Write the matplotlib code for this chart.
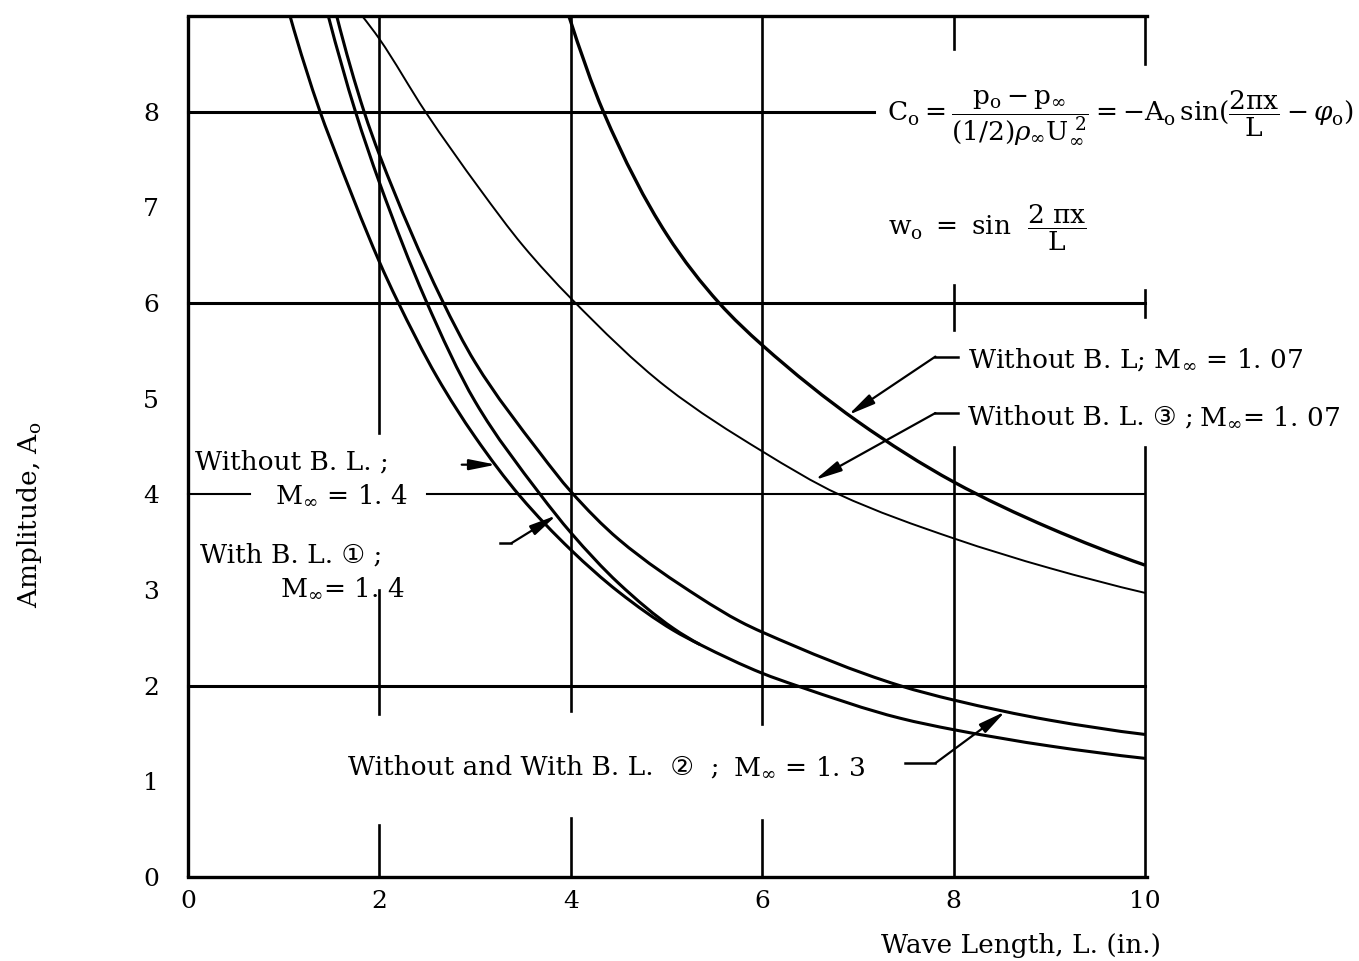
import numpy as np
import matplotlib.pyplot as plt
from matplotlib.path import Path
from matplotlib.patches import PathPatch

plt.rcParams['font.family'] = ['DejaVu Serif', 'DejaVu Sans']
plt.rcParams['mathtext.fontset'] = 'dejavuserif'

# Wave length L (in.) and amplitude A_o along each curve
L_m107 = [3.98, 4.34, 5.0, 5.55, 6.0, 7.0, 8.0, 9.0, 10.0]
A_m107 = [9.0, 8.0, 6.72, 6.0, 5.56, 4.76, 4.13, 3.65, 3.26]

L_m107_3 = [1.82, 2.0, 2.48, 3.05, 3.5, 4.0, 5.0, 6.0, 6.8, 8.0, 9.0, 10.0]
A_m107_3 = [9.0, 8.76, 8.0, 7.19, 6.6, 6.05, 5.12, 4.45, 4.0, 3.54, 3.23, 2.97]

L_m14 = [1.066, 1.38, 1.48, 2.0, 2.18, 2.6, 3.0, 3.47, 4.0, 4.5, 5.07, 5.35,
         6.0, 6.36, 7.44, 8.0, 9.0, 10.0]
A_m14 = [9.0, 8.0, 7.73, 6.43, 6.04, 5.23, 4.6, 3.98, 3.42, 2.98, 2.58, 2.43,
         2.13, 2.0, 1.66, 1.54, 1.37, 1.24]

L_m14_1 = [1.466, 1.75, 2.0, 2.48, 3.0, 3.68, 4.0, 4.5, 5.07, 5.35]
A_m14_1 = [9.0, 8.0, 7.26, 6.04, 4.97, 4.0, 3.60, 3.07, 2.60, 2.43]

L_m13 = [1.554, 1.84, 2.0, 2.65, 3.0, 3.68, 4.0, 4.5, 5.35, 5.77, 6.0, 7.44,
         8.0, 9.0, 10.0]
A_m13 = [9.0, 8.0, 7.55, 6.04, 5.38, 4.43, 4.03, 3.53, 2.92, 2.67, 2.56, 2.0,
         1.85, 1.64, 1.49]

x_ticks = [0, 2, 4, 6, 8, 10]
y_ticks = [0, 1, 2, 3, 4, 5, 6, 7, 8]


def hermite_path(x, y):
    """Monotone cubic through the points, built as Bezier segments."""
    x = np.asarray(x, float)
    y = np.asarray(y, float)
    h = np.diff(x)
    d = np.diff(y) / h
    m = np.zeros_like(x)
    for i in range(1, len(x) - 1):
        if d[i - 1] * d[i] > 0:
            w1 = 2 * h[i] + h[i - 1]
            w2 = h[i] + 2 * h[i - 1]
            m[i] = (w1 + w2) / (w1 / d[i - 1] + w2 / d[i])
    m[0] = ((2 * h[0] + h[1]) * d[0] - h[0] * d[1]) / (h[0] + h[1])
    m[-1] = ((2 * h[-1] + h[-2]) * d[-1] - h[-1] * d[-2]) / (h[-1] + h[-2])
    verts = [(x[0], y[0])]
    codes = [Path.MOVETO]
    for i in range(len(x) - 1):
        verts += [(x[i] + h[i] / 3, y[i] + m[i] * h[i] / 3),
                  (x[i + 1] - h[i] / 3, y[i + 1] - m[i + 1] * h[i] / 3),
                  (x[i + 1], y[i + 1])]
        codes += [Path.CURVE4] * 3
    return Path(verts, codes)


fig = plt.figure(figsize=(13.59, 9.61), dpi=100)
ax = fig.add_axes([188 / 1359, 84 / 961, 957 / 1359, 861 / 961])
ax.set_xlim(0, 10)
ax.set_ylim(0, 9)
for s in ax.spines.values():
    s.set_visible(False)

# frame: left, bottom and top edges
ax.plot([0, 0], [0, 9], color='k', lw=2.4, clip_on=False, solid_capstyle='butt')
ax.plot([0, 10.02], [0, 0], color='k', lw=2.4, clip_on=False)
ax.plot([0, 10.02], [9, 9], color='k', lw=2.4, clip_on=False)

# grid lines, broken where the labels sit
hsegs = [(8, 0, 7.17, 2.2), (6, 0, 10, 2.2), (4, 0, 0.65, 1.5),
         (4, 2.5, 10, 1.5), (2, 0, 10, 2.2)]
vsegs = [(2, 4.64, 9), (2, 1.7, 3.0), (2, 0, 0.54),
         (4, 1.73, 9), (4, 0, 0.62),
         (6, 1.6, 9), (6, 0, 0.6),
         (8, 8.65, 9), (8, 5.72, 6.19), (8, 0, 4.5),
         (10, 8.5, 9), (10, 5.85, 6.14), (10, 0, 4.5)]
for yv, x0, x1, lw in hsegs:
    ax.plot([x0, x1], [yv, yv], color='k', lw=lw, clip_on=False)
for xv, y0, y1 in vsegs:
    ax.plot([xv, xv], [y0, y1], color='k', lw=1.9, clip_on=False)

ax.set_xticks(x_ticks)
ax.set_yticks(y_ticks)
ax.set_yticks([1, 3, 5, 7], minor=True)
ax.tick_params(which='major', length=0, labelsize=18)
ax.tick_params(axis='x', pad=9)
ax.tick_params(axis='y', pad=21)
ax.tick_params(axis='y', which='minor', direction='in', length=6, width=1.6)

curves = [(L_m107, A_m107, 2.4), (L_m107_3, A_m107_3, 1.4),
          (L_m14, A_m14, 2.2), (L_m14_1, A_m14_1, 2.2), (L_m13, A_m13, 2.2)]
for lx, ay, lw in curves:
    ax.add_patch(PathPatch(hermite_path(lx, ay), fill=False, ec='k', lw=lw,
                           capstyle='butt'))

arrow = dict(arrowstyle='-|>,head_length=0.9,head_width=0.18', color='k',
             lw=1.6, shrinkA=0, shrinkB=0, mutation_scale=18)


def leader(x0, x1, y, tip):
    ax.plot([x0, x1], [y, y], color='k', lw=1.8)
    ax.annotate('', xy=tip, xytext=(x1, y), arrowprops=arrow)


fs = 19


def label(x, y, plain, mach, gap=6):
    # plain part keeps the font fallback (circled digits), the Mach part uses mathtext
    t = ax.text(x, y, plain, fontsize=fs, va='baseline', clip_on=False)
    ax.annotate(mach, xy=(1, y), xycoords=(t, 'data'), xytext=(gap, 0),
                textcoords='offset points', fontsize=fs, va='baseline',
                annotation_clip=False)


ax.text(8.15, 5.33, r'Without B. L; M$_\infty$ = 1. 07', fontsize=fs,
        va='baseline', clip_on=False)
leader(8.05, 7.81, 5.44, (6.90, 4.83))
label(8.15, 4.73, 'Without B. L. ③ ;', r'M$_\infty$= 1. 07', gap=4)
leader(8.05, 7.81, 4.85, (6.55, 4.15))

ax.text(0.07, 4.26, 'Without B. L. ;', fontsize=fs, va='baseline')
ax.text(0.91, 3.91, r'M$_\infty$ = 1. 4', fontsize=fs, va='baseline')
ax.annotate('', xy=(3.22, 4.31), xytext=(2.86, 4.31), arrowprops=arrow)

ax.text(0.13, 3.29, 'With B. L. ① ;', fontsize=fs, va='baseline')
ax.text(0.96, 2.94, r'M$_\infty$= 1. 4', fontsize=fs, va='baseline')
leader(3.26, 3.38, 3.49, (3.85, 3.78))

label(1.67, 1.07, 'Without and With B. L.  ②  ;', r'M$_\infty$ = 1. 3', gap=10)
leader(7.49, 7.81, 1.19, (8.54, 1.73))

ax.text(7.3, 7.92,
        r'$\mathrm{C}_\mathrm{o} = '
        r'\dfrac{\mathrm{p}_\mathrm{o} - \mathrm{p}_\infty}'
        r'{(1/2)\rho_\infty \mathrm{U}_\infty^{\ 2}}'
        r' = -\mathrm{A}_\mathrm{o}\,\mathrm{sin}('
        r'\dfrac{\mathrm{2π x}}{\mathrm{L}} - \varphi_\mathrm{o})$',
        fontsize=fs, va='baseline', clip_on=False)
ax.text(7.31, 6.71,
        r'$\mathrm{w}_\mathrm{o}\ =\ \mathrm{sin}\ \ '
        r'\dfrac{\mathrm{2\ π x}}{\mathrm{L}}$',
        fontsize=fs, va='baseline', clip_on=False)

fig.text(1021 / 1359, 1 - 945 / 961, 'Wave Length, L. (in.)', fontsize=fs,
         ha='center', va='center')
fig.text(30 / 1359, 1 - 515 / 961, r'Amplitude, A$_\mathrm{o}$', fontsize=fs,
         ha='center', va='center', rotation=90)

fig.savefig('out.png', dpi=100)
